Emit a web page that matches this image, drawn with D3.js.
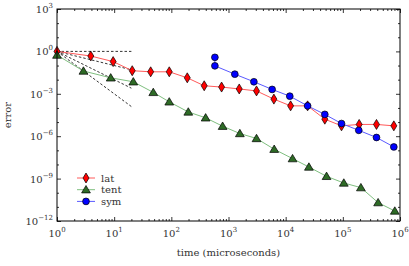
<!DOCTYPE html>
<html>
<head>
<meta charset="utf-8">
<script src="https://cdn.jsdelivr.net/npm/d3@7"></script>
<style>
  body { margin: 0; background: #fff; }
  .axis path { display: none; }
  .axis line { stroke: #000; stroke-width: 0.8px; }
  .frame { fill: none; stroke: #000; stroke-width: 1px; }
  .ref { fill: none; stroke: #000; stroke-width: 0.8px; stroke-dasharray: 2.5,2; }
</style>
</head>
<body>
<svg id="chart"></svg>
<script>
// times (microseconds) and errors
var latTime = [1, 3.9, 9.6, 20.7, 43.5, 92, 190, 376, 757, 1540, 3090, 6220, 12200, 24200, 48400, 94800, 193000, 388000, 780000];
var latErr  = [1, 0.47, 0.19, 0.043, 0.036, 0.036, 0.0135, 0.0037, 0.0030, 0.0022, 0.0016, 4.2e-4, 1.4e-4, 1.4e-4, 1.6e-5, 5.4e-6, 6.8e-6, 6.8e-6, 5.4e-6];

var tentTime = [1, 2.9, 8.7, 21.6, 48.3, 92, 198, 398, 789, 1580, 3090, 6300, 13200, 25500, 51900, 104000, 207000, 414000, 811000];
var tentErr  = [0.55, 0.041, 0.0135, 0.0071, 0.00126, 2.7e-4, 5.2e-5, 2.0e-5, 5.1e-6, 1.55e-6, 6.9e-7, 1.2e-7, 2.6e-8, 6.6e-9, 1.45e-9, 4.9e-10, 2.3e-10, 2.0e-11, 5.1e-12];

var symTime = [578, 578, 1290, 2780, 5800, 11800, 24200, 48400, 94800, 190000, 388000, 780000];
var symErr  = [0.38, 0.095, 0.0245, 0.0071, 0.00204, 6.8e-4, 1.4e-4, 3.5e-5, 7.9e-6, 2.6e-6, 8.1e-7, 1.74e-7];

// dashed reference slopes from (1, 1) out to t = 20
var refSlopes = [0, -1, -2, -3];
var refEnd = 20;

var seriesNames = ["lat", "tent", "sym"];
var xTicks = [1, 10, 100, 1000, 10000, 100000, 1000000];
var yTicks = [1e-12, 1e-9, 1e-6, 1e-3, 1, 1e3];

var W = 409, H = 266;
var margin = {top: 9, right: 9, bottom: 45, left: 57};
var serif = "'DejaVu Serif', serif";

var svg = d3.select("#chart").attr("width", W).attr("height", H);

var x = d3.scaleLog().domain([1, 1e6]).range([margin.left, W - margin.right]);
var y = d3.scaleLog().domain([1e-12, 1e3]).range([H - margin.bottom, margin.top]);

var x0 = margin.left, x1 = W - margin.right, y0 = H - margin.bottom, y1 = margin.top;

// minor tick values
var xMinor = [];
for (var e = 0; e < 6; e++) for (var k = 2; k < 10; k++) xMinor.push(k * Math.pow(10, e));
var yMinor = [];
for (var p = -12; p <= 3; p++) if (p % 3 !== 0) yMinor.push(Math.pow(10, p));

function noLabel() { return ""; }

svg.append("g").attr("class", "axis").attr("transform", "translate(0," + y0 + ")")
  .call(d3.axisBottom(x).tickValues(xTicks).tickSize(-4).tickFormat(noLabel));
svg.append("g").attr("class", "axis").attr("transform", "translate(0," + y0 + ")")
  .call(d3.axisBottom(x).tickValues(xMinor).tickSize(-2).tickFormat(noLabel));
svg.append("g").attr("class", "axis").attr("transform", "translate(0," + y1 + ")")
  .call(d3.axisTop(x).tickValues(xTicks).tickSize(-4).tickFormat(noLabel));
svg.append("g").attr("class", "axis").attr("transform", "translate(0," + y1 + ")")
  .call(d3.axisTop(x).tickValues(xMinor).tickSize(-2).tickFormat(noLabel));
svg.append("g").attr("class", "axis").attr("transform", "translate(" + x0 + ",0)")
  .call(d3.axisLeft(y).tickValues(yTicks).tickSize(-4).tickFormat(noLabel));
svg.append("g").attr("class", "axis").attr("transform", "translate(" + x0 + ",0)")
  .call(d3.axisLeft(y).tickValues(yMinor).tickSize(-2).tickFormat(noLabel));
svg.append("g").attr("class", "axis").attr("transform", "translate(" + x1 + ",0)")
  .call(d3.axisRight(y).tickValues(yTicks).tickSize(-4).tickFormat(noLabel));
svg.append("g").attr("class", "axis").attr("transform", "translate(" + x1 + ",0)")
  .call(d3.axisRight(y).tickValues(yMinor).tickSize(-2).tickFormat(noLabel));

// power-of-ten labels
function powLabel(sel, v) {
  var ex = Math.round(Math.log10(v));
  sel.append("tspan").text("10");
  sel.append("tspan").attr("dy", -5).style("font-size", "7px").text(ex < 0 ? "\u2212" + (-ex) : ex);
}

xTicks.forEach(function(v) {
  var t = svg.append("text").attr("x", x(v)).attr("y", y0 + 16)
    .attr("text-anchor", "middle").style("font-family", serif).style("font-size", "10px").attr("fill", "#333");
  powLabel(t, v);
});
yTicks.forEach(function(v) {
  var t = svg.append("text").attr("x", x0 - 4).attr("y", y(v) + 4)
    .attr("text-anchor", "end").style("font-family", serif).style("font-size", "10px").attr("fill", "#333");
  powLabel(t, v);
});

svg.append("text").attr("x", (x0 + x1) / 2).attr("y", H - 10)
  .attr("text-anchor", "middle").style("font-family", serif).style("font-size", "10px").attr("fill", "#333")
  .text("time (microseconds)");
svg.append("text").attr("transform", "translate(11," + ((y0 + y1) / 2) + ") rotate(-90)")
  .attr("text-anchor", "middle").style("font-family", serif).style("font-size", "10px").attr("fill", "#333")
  .text("error");

// reference slopes
refSlopes.forEach(function(s) {
  svg.append("line").attr("class", "ref")
    .attr("x1", x(1)).attr("y1", y(1))
    .attr("x2", x(refEnd)).attr("y2", y(Math.pow(refEnd, s)));
});

var diamond = "M0,-5L3,0L0,5L-3,0Z";
var triangle = "M0,-4.2L4.4,3.2L-4.4,3.2Z";
var circle = d3.symbol().type(d3.symbolCircle).size(36)();

var series = [
  {name: "lat", t: latTime, e: latErr, line: "#ff5a5a", fill: "#ff0000", shape: diamond},
  {name: "tent", t: tentTime, e: tentErr, line: "#7fbf7f", fill: "#2e6b26", shape: triangle},
  {name: "sym", t: symTime, e: symErr, line: "#5a5aff", fill: "#0000ff", shape: circle}
];

var line = d3.line().x(function(d) { return x(d[0]); }).y(function(d) { return y(d[1]); });

series.forEach(function(s) {
  var pts = d3.zip(s.t, s.e);
  svg.append("path").datum(pts).attr("d", line)
    .attr("fill", "none").attr("stroke", s.line).attr("stroke-width", 1);
  svg.selectAll(null).data(pts).enter().append("path")
    .attr("d", s.shape)
    .attr("transform", function(d) { return "translate(" + x(d[0]) + "," + y(d[1]) + ")"; })
    .attr("fill", s.fill).attr("stroke", "#000").attr("stroke-width", 0.7);
});

// legend
var legend = svg.append("g");
series.forEach(function(s, i) {
  var ly = 178 + i * 11.7;
  legend.append("line").attr("x1", 77).attr("x2", 95).attr("y1", ly).attr("y2", ly)
    .attr("stroke", s.line).attr("stroke-width", 1);
  legend.append("path").attr("d", s.shape).attr("transform", "translate(86," + ly + ")")
    .attr("fill", s.fill).attr("stroke", "#000").attr("stroke-width", 0.7);
  legend.append("text").attr("x", 101).attr("y", ly + 3.5)
    .style("font-family", serif).style("font-size", "10px").attr("fill", "#333").text(seriesNames[i]);
});

svg.append("rect").attr("class", "frame")
  .attr("x", x0).attr("y", y1).attr("width", x1 - x0).attr("height", y0 - y1);
</script>
</body>
</html>
